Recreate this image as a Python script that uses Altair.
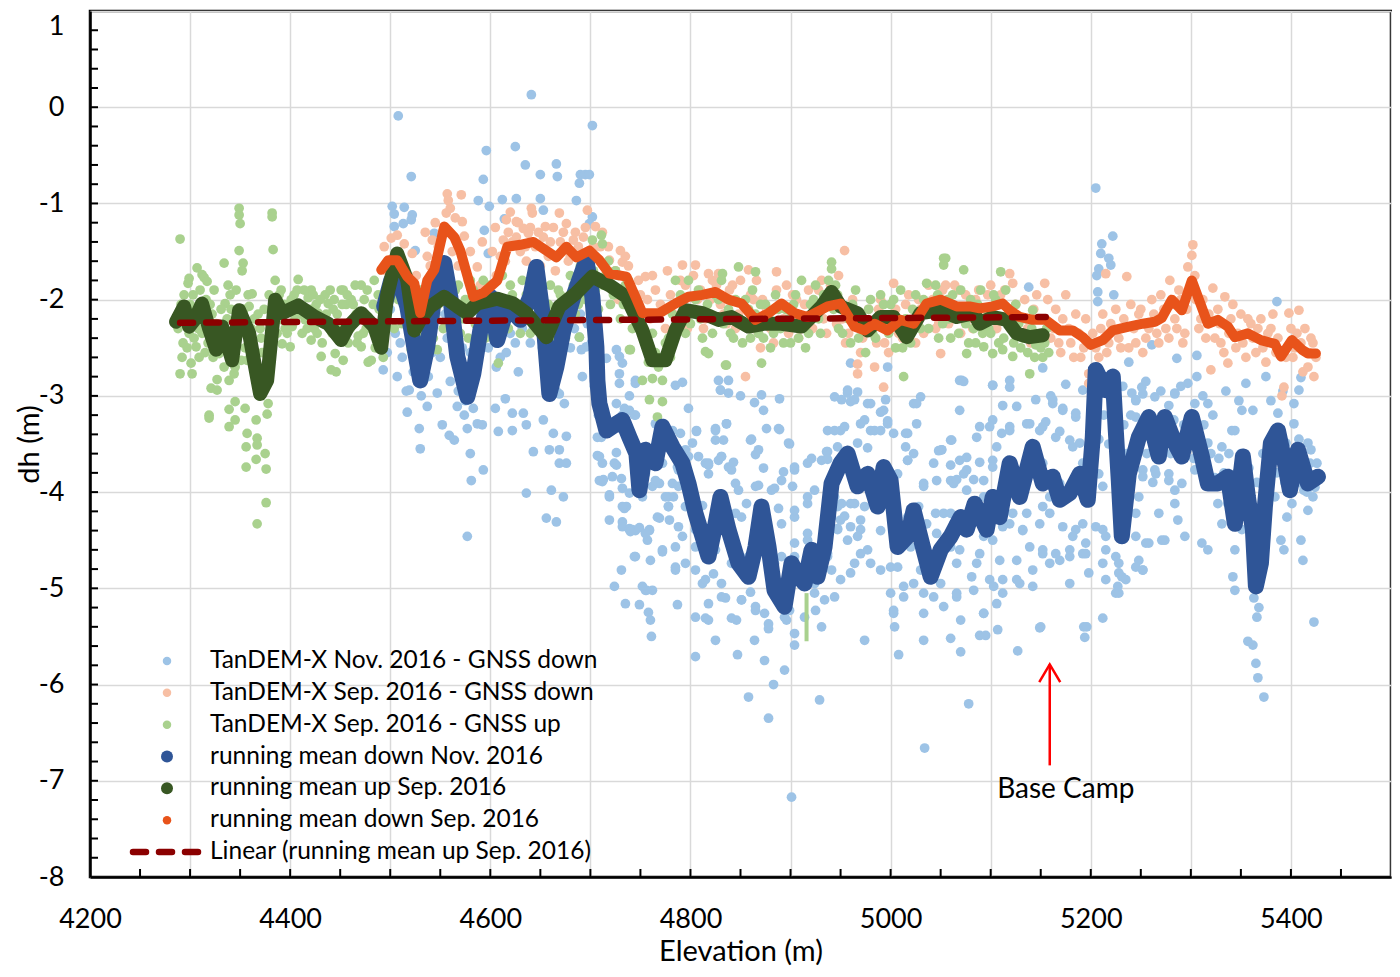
import altair as alt
import pandas as pd

FONT = "Lato"
W, H = 1301, 866

# ---------------- data ----------------
nov_down_pts = [
    (4508,-0.09),(4641,0.13),(4702,-0.19),(4521,-0.72),(4596,-0.45),(4625,-0.41),(4635,-0.60),(4650,-0.70),
    (4666,-0.59),(4667,-0.72),(4690,-0.70),(4695,-0.70),(4699,-0.70),(4689,-0.79),(4593,-0.75),(4588,-0.97),
    (4612,-0.96),(4626,-0.95),(4650,-0.95),(4686,-0.97),(4502,-1.03),(4514,-1.04),(4504,-1.11),(4522,-1.12),
    (4521,-1.17),(4513,-1.21),(4504,-1.24),(4599,-1.03),(4594,-1.28),(4614,-1.16),(4653,-1.07),(4702,-1.14),
    (4699,-1.21),(4544,-1.31),(4598,-1.52),(4525,-1.49),
    (4497,-2.30),(4503,-1.90),(4510,-2.45),(4515,-1.75),(4525,-2.20),(4533,-2.65),(4540,-2.35),(4548,-1.85),
    (4555,-2.15),(4562,-2.40),(4570,-2.75),(4580,-2.55),(4590,-2.15),(4598,-2.50),(4610,-2.60),(4620,-2.35),
    (4628,-2.75),(4640,-2.45),(4648,-2.05),(4660,-2.60),(4672,-2.15),(4680,-2.50),(4690,-2.15),(4700,-1.85),
    (4706,-2.60),
    (4493,-2.73),(4497,-2.55),(4507,-2.80),(4517,-3.17),(4519,-2.94),(4529,-3.34),(4530,-3.55),(4537,-3.11),
    (4547,-2.97),(4552,-3.30),(4559,-3.41),(4564,-3.46),(4567,-3.11),(4574,-3.20),(4577,-3.34),(4580,-3.60),
    (4581,-3.88),(4587,-3.29),(4592,-3.30),(4583,-3.13),(4593,-3.77),(4605,-3.13),(4608,-3.37),(4615,-3.03),
    (4622,-3.36),(4622,-3.18),(4633,-3.18),(4636,-3.30),(4643,-3.58),(4636,-4.01),(4653,-3.25),(4656,-4.27),
    (4666,-4.31),(4661,-3.98),(4673,-4.05),(4663,-3.39),(4669,-3.70),(4676,-3.42),(4669,-3.56),(4659,-3.56),
    (4676,-3.70),(4674,-3.08),(4669,-2.98),(4577,-4.46),(4696,-2.49),(4689,-2.39),
    (4716,-2.61),(4726,-2.52),(4732,-2.66),(4729,-2.77),(4745,-2.84),(4732,-3.20),(4739,-3.15),(4744,-3.20),
    (4726,-3.08),(4707,-3.43),(4707,-3.62),(4712,-3.70),(4726,-3.72),(4712,-3.89),(4719,-4.05),(4732,-3.96),
    (4739,-4.01),(4749,-3.94),(4752,-4.05),(4734,-4.17),(4739,-4.38),(4745,-4.40),(4759,-4.40),(4769,-4.27),
    (4762,-3.94),(4769,-3.70),(4755,-3.63),(4778,-4.15),(4779,-4.29),(4788,-3.94),(4790,-3.39),(4795,-3.56),
    (4798,-3.13),(4806,-3.36),(4815,-3.70),(4818,-3.81),(4825,-3.34),(4831,-3.63),(4838,-3.74),(4836,-3.29),
    (4825,-3.46),(4838,-2.97),(4830,-2.94),(4828,-2.84),(4838,-2.84),(4732,-4.31),(4709,-3.88),
    (4691,-2.52),(4692,-2.80),(4729,-2.59),(4745,-2.87),(4785,-2.89),(4792,-2.86),
    (4871,-2.99),(4889,-3.03),(4873,-3.15),(4876,-3.34),(4888,-3.34),(4860,-3.46),(4898,-3.49),(4957,-2.97),
    (4967,-2.96),(4960,-3.06),(4977,-3.08),(4995,-3.04),(4993,-3.15),(4997,-3.29),(4974,-3.25),(4984,-3.36),
    (5017,-3.39),(5023,-3.08),(5030,-3.01),(5061,-3.46),(5069,-2.84),(5051,-3.56),(5069,-3.67),(5017,-3.67),
    (5007,-3.81),(5033,-3.91),(5060,-3.88),(5076,-3.98),(5053,-4.22),(5017,-4.26),(4997,-4.05),(5069,-4.60),
    (5050,-4.95),(5030,-4.81),(5013,-5.09),(5003,-5.23),(5033,-5.26),(5066,-5.09),(5081,-4.88),(4960,-4.12),
    (4970,-4.39),(4977,-4.60),(4964,-4.74),(4941,-4.26),(4947,-4.39),(4937,-4.67),(4944,-5.09),(4924,-4.95),
    (4914,-5.30),(4894,-5.30),(4878,-5.37),(4865,-5.19),(4851,-5.12),(4831,-5.09),(4818,-5.16),(4812,-4.95),
    (4795,-4.74),(4785,-4.81),(4762,-5.02),(4755,-5.02),(4745,-4.67),(4732,-4.36),(4742,-4.39),(4759,-4.39),
    (4772,-4.60),(4785,-4.57),(4722,-3.84),(4736,-4.15),(4769,-3.91),(4778,-4.05),(4788,-3.77),(4808,-3.63),
    (4818,-3.70),(4828,-3.67),(4841,-3.77),(4845,-3.91),(4865,-3.94),(4881,-3.98),(4891,-3.88),(4904,-3.77),
    (4917,-3.70),(4931,-3.67),(4937,-3.36),(4947,-3.53),(4950,-3.36),(4924,-3.98),(4917,-4.12),(4904,-4.26),
    (4891,-4.33),(4871,-4.33),(4851,-4.26),(4835,-4.33),(4825,-4.60),(4841,-4.74),(4858,-4.67),(4884,-4.74),
    (4904,-4.67),(4917,-4.50),(4937,-4.39),(4795,-4.15),(4805,-4.39),
    (4850,-3.00),(4864,-3.07),(4957,-2.94),(4960,-2.66),(4997,-2.70),(5138,-1.87),(5071,-2.84),(5102,-2.89),
    (5119,-2.84),(5152,-2.71),(5160,-3.00),
    (4901,-7.17),(5034,-6.66),(5078,-6.20),(4878,-6.35),(4858,-6.13),(4883,-6.00),(4929,-6.16),(5127,-5.65),
    (5149,-5.41),(5194,-5.51),(5193,-5.40),(5060,-5.52),(5070,-5.33),(5089,-5.49),(5095,-5.49),(5008,-5.69),
    (5004,-5.40),(4805,-5.71),(4761,-5.50),(4758,-5.25),(4731,-4.81),(4735,-5.16),(4756,-5.02),(4787,-5.17),
    (4815,-5.31),(4846,-5.33),(4925,-5.23),(4904,-5.59),(4874,-5.75),(4894,-5.85),(4864,-5.54),(4847,-5.69),
    (4825,-5.54),(4974,-5.54),(5033,-5.54),(5107,-5.43),(5070,-5.66),
    (5205,-0.84),(5222,-1.34),(5211,-1.42),(5210,-1.52),(5218,-1.57),(5220,-1.64),(5208,-1.68),(5206,-1.75),
    (5207,-1.92),(5207,-2.02),(5223,-1.95),(5386,-2.02),(5261,-2.47),(5238,-2.65),(5286,-2.61),(5306,-2.58),
    (5306,-2.80),
    (5241,-2.97),(5251,-2.91),(5264,-3.01),(5284,-2.97),(5297,-2.87),(5304,-3.08),(5317,-3.08),(5341,-3.36),
    (5351,-3.15),(5387,-3.18),(5403,-3.08),(5408,-2.94),(5410,-2.81),(5375,-2.80),(5355,-2.87),(5417,-3.49),
    (5420,-3.56),(5413,-3.98),(5417,-4.19),(5410,-4.50),(5412,-4.71),(5396,-4.26),(5390,-4.50),(5393,-4.60),
    (5370,-4.26),(5360,-4.60),(5344,-4.60),(5342,-4.88),(5344,-5.02),(5317,-4.60),(5311,-4.53),(5294,-4.46),
    (5287,-4.29),(5274,-4.50),(5258,-4.53),(5252,-4.81),(5248,-4.71),(5228,-4.74),(5231,-4.88),(5225,-5.05),
    (5215,-4.60),(5212,-4.74),(5215,-4.91),(5198,-4.84),(5192,-4.64),(5195,-4.53),(5212,-4.39),(5185,-4.39),
    (5179,-4.60),(5169,-4.71),(5159,-4.74),(5152,-4.60),(5142,-4.81),(5129,-4.95),(5112,-4.91),(5099,-4.91),
    (5086,-4.74),(5066,-4.74),(5093,-5.26),(5106,-5.16),(5150,-5.40),(5179,-4.95),(5196,-5.40),(5212,-5.31),
    (5331,-4.33),(5327,-4.12),
    (5069,-3.15),(5086,-3.43),(5102,-3.25),(5119,-3.36),(5136,-3.29),(5152,-3.32),(5165,-3.43),(5182,-3.53),
    (5185,-3.22),(5172,-3.15),(5162,-3.08),(5136,-3.77),(5152,-3.70),(5159,-4.05),(5169,-3.91),(5192,-3.70),
    (5102,-3.67),(5093,-4.05),(5076,-3.77),(5063,-3.91),(5060,-4.22),(5119,-4.33),(5132,-4.39),(5102,-4.50),
    (5245,-3.43),(5252,-3.77),(5264,-3.77),(5278,-3.81),(5291,-3.91),(5304,-3.77),(5317,-3.49),(5331,-3.53),
    (5344,-3.36),(5337,-4.12),(5351,-4.39),(5370,-3.91),(5384,-4.05),(5401,-4.12),(5411,-3.91),(5419,-3.70),
    (5422,-4.05),(5403,-3.29),(5395,-3.49),
    (5232,-2.90),(5245,-3.05),(5255,-2.85),(5270,-2.95),(5278,-3.10),(5290,-2.90),(5312,-3.00),(5322,-3.20),
    (5335,-2.95),(5348,-3.05),(5362,-3.15),(5380,-3.05),(5392,-2.95),
    (5373,-6.13),(5367,-5.93),(5365,-5.78),(5362,-5.59),(5357,-5.55),(5423,-5.35),(5228,-5.05),
    (5363,-5.10),(5366,-5.30),(5368,-5.20),
]

nov_down_more = [
    (4729,-2.87),(4830,-2.94),(4836,-3.29),(4889,-3.35),(4861,-3.45),(4899,-3.50),(4868,-3.56),(4865,-3.61),
    (4806,-3.37),(4825,-3.36),(4833,-3.46),(4921,-3.65),(4936,-3.58),(4904,-3.74),(4893,-3.79),(4873,-3.75),
    (4843,-3.69),(4818,-3.72),(4831,-3.63),(4798,-3.63),(4787,-3.74),(4848,-3.98),(4868,-3.93),(4884,-3.96),
    (4902,-3.94),(4917,-4.05),(4904,-4.19),(4888,-4.17),(4856,-4.12),(4845,-4.22),(4812,-4.14),(4783,-4.05),
    (4767,-4.26),(4778,-4.15),(4792,-4.46),(4788,-4.36),(4805,-4.57),(4772,-4.62),(4785,-4.78),(4760,-4.71),
    (4744,-4.67),(4739,-4.39),(4749,-4.37),(4757,-4.50),(4752,-4.98),(4749,-5.17),(4760,-5.33),(4805,-4.81),
    (4815,-4.91),(4823,-4.85),(4831,-4.95),(4805,-5.30),(4818,-5.33),(4835,-5.10),(4841,-5.31),(4851,-5.12),
    (4860,-5.04),(4865,-5.23),(4874,-5.26),(4878,-5.42),(4896,-5.33),(4899,-5.23),(4924,-5.05),(4934,-5.12),
    (4931,-5.40),(4904,-5.47),(4891,-4.67),(4904,-4.53),(4917,-4.43),(4937,-4.64),(4941,-4.81),(4950,-4.91),
    (4960,-4.84),(4970,-4.64),(4980,-4.74),(4990,-4.81),(5000,-4.78),(4957,-4.50),(4967,-4.46),(4970,-4.29),
    (4990,-4.40),(4950,-4.29),(4960,-4.36),(4947,-4.15),(4964,-4.12),(4974,-4.15),(4954,-3.32),(4970,-3.29),
    (4980,-3.36),(4990,-3.36),(4944,-3.36),(4967,-3.49),(4977,-3.54),(4937,-3.58),(4990,-3.17),(4997,-3.26),
    (4944,-3.01),(4951,-3.04),(4964,-3.04),(4980,-3.08),(4937,-3.66),(4944,-4.05),(4951,-4.12),(4947,-4.38),
    (4954,-4.25),(4711,-3.43),(4709,-3.63),(4713,-3.87),(4719,-4.03),(4732,-4.15),(4740,-4.41),(4731,-3.86),
    (4724,-3.70),(4726,-3.59),(4714,-3.18),(4734,-3.13),(4745,-3.20),(4739,-3.00),(4765,-3.29),(4782,-3.36),
    (4802,-3.49),(4793,-3.66),(4755,-3.81),(4765,-3.88),(4772,-3.70),(4782,-3.91),(4775,-4.05),(4719,-4.29),
    (4755,-4.43),(4724,-4.98),
    (5026,-3.29),(5015,-3.39),(5060,-3.46),(5051,-3.56),(5023,-3.60),(5015,-3.53),(5017,-3.67),(5003,-3.39),
    (5089,-3.32),(5099,-3.32),(5119,-3.32),(5111,-3.39),(5139,-3.29),(5149,-3.36),(5155,-3.27),(5169,-3.37),
    (5179,-3.46),(5189,-3.49),(5185,-3.18),(5112,-3.10),(5126,-3.11),(5145,-3.04),(5162,-3.04),(5172,-3.13),
    (5073,-2.85),(5102,-2.89),(5119,-2.91),(5026,-3.08),(5048,-3.57),(5060,-3.72),(5073,-3.81),(5083,-3.87),
    (5093,-3.88),(5102,-3.74),(5089,-3.69),(5106,-3.53),(5076,-3.64),(5066,-3.87),(5046,-3.88),(5043,-3.70),
    (5033,-3.94),(5028,-4.15),(5045,-4.22),(5036,-4.33),(5046,-4.43),(5063,-4.33),(5079,-4.39),(5093,-4.46),
    (5102,-4.29),(5112,-4.36),(5122,-4.22),(5136,-4.22),(5149,-4.33),(5132,-4.40),(5159,-4.22),(5152,-4.15),
    (5172,-4.36),(5182,-4.46),(5192,-4.33),(5179,-4.67),(5165,-4.64),(5152,-4.64),(5139,-4.57),(5126,-4.71),
    (5109,-4.71),(5089,-4.64),(5060,-4.57),(5036,-4.64),(5020,-4.57),(5007,-4.78),(5013,-4.98),(5023,-4.95),
    (5033,-5.05),(5043,-5.09),(5053,-5.19),(5066,-5.05),(5083,-5.02),(5093,-5.26),(5103,-4.98),(5112,-5.05),
    (5126,-4.91),(5142,-4.98),(5000,-5.05),(5003,-5.26),(5195,-4.64),(5205,-4.36),(5215,-4.46),(5225,-4.67),
    (5228,-4.84),(5227,-4.98),(5235,-4.91),(5245,-4.78),(5245,-4.46),(5255,-4.53),(5252,-4.81),(5271,-4.50),
    (5212,-3.94),(5208,-3.81),(5245,-4.22),(5268,-4.22),(5248,-4.05),(5252,-3.84),(5265,-3.81),(5278,-3.88),
    (5284,-3.98),(5284,-4.12),(5245,-3.22),(5245,-3.04),(5252,-2.98),(5284,-2.98),(5175,-2.88),(5192,-2.94),
    (5200,-3.70),(5203,-3.20),(5208,-3.45),(5213,-3.20),(5218,-3.50),(5222,-3.15),(5226,-3.60),(5233,-3.30),
    (5236,-3.60),(5240,-3.20),(5243,-3.70),(5250,-3.40),(5256,-3.60),(5260,-3.35),(5262,-3.90),(5266,-3.45),
    (5272,-3.60),(5276,-3.35),(5280,-3.60),(5283,-3.25),(5288,-3.45),(5293,-3.30),(5296,-3.55),(5300,-3.40),
    (5303,-3.65),(5308,-3.45),(5313,-3.30),(5316,-3.75),(5320,-3.60),(5324,-3.85),(5328,-3.65),(5333,-3.80),
    (5338,-3.60),(5340,-4.00),(5346,-3.80),(5350,-3.60),(5354,-3.95),(5358,-3.75),(5361,-4.20),(5366,-3.90),
    (5369,-4.50),(5372,-3.60),(5376,-3.95),(5379,-3.70),(5383,-3.50),(5386,-3.80),(5390,-3.55),(5394,-3.90),
    (5397,-3.65),(5400,-3.85),(5405,-3.70),(5408,-3.45),(5414,-3.75),(5416,-4.00),(5420,-3.85),(5424,-3.95),
    (5426,-3.70),
    (4495,-2.55),(4500,-2.10),(4505,-2.35),(4508,-1.60),(4512,-2.60),(4516,-2.95),(4520,-2.05),(4523,-2.75),
    (4527,-2.40),(4531,-3.00),(4535,-2.20),(4538,-2.80),(4542,-2.55),(4546,-2.15),(4550,-2.60),(4553,-1.90),
    (4557,-2.40),(4560,-2.85),(4565,-2.30),(4568,-2.95),(4572,-2.50),(4575,-3.05),(4578,-2.70),(4584,-2.45),
    (4588,-2.30),(4592,-2.05),(4596,-2.25),(4602,-2.35),(4606,-2.70),(4612,-2.25),(4616,-2.55),(4619,-2.05),
    (4625,-2.45),(4632,-2.30),(4637,-2.15),(4643,-2.30),(4645,-1.85),(4652,-2.50),(4657,-2.85),(4663,-2.40),
    (4666,-2.95),(4670,-2.60),(4675,-2.35),(4678,-2.05),(4684,-2.30),(4688,-1.95),(4693,-1.80),(4697,-2.25),
    (4701,-2.45),(4704,-2.90),(4708,-3.20),(4711,-3.05),
]

sep_down_pts = [
    (4557,-0.90),(4571,-0.91),(4558,-0.97),(4556,-1.10),(4565,-1.15),(4572,-1.19),(4574,-1.34),(4620,-1.09),
    (4641,-1.05),(4642,-1.10),(4616,-1.17),(4626,-1.19),(4633,-1.26),(4655,-1.24),(4669,-1.10),(4676,-1.21),
    (4697,-1.07),(4705,-1.24),(4501,-1.36),(4507,-1.33),(4494,-1.45),(4514,-1.42),(4522,-1.52),(4537,-1.55),
    (4542,-1.38),(4587,-1.66),(4602,-1.50),(4613,-1.38),(4626,-1.35),(4638,-1.31),(4653,-1.35),(4673,-1.30),
    (4683,-1.38),(4693,-1.35),(4719,-1.59),(4730,-1.49),(4732,-1.61),(4755,-1.76),(4792,-1.64),(4805,-1.64),
    (4818,-1.73),(4828,-1.73),
    (4496,-1.70),(4503,-1.85),(4510,-1.60),(4518,-1.95),(4526,-1.75),(4531,-2.00),(4540,-1.65),(4548,-1.45),
    (4552,-1.30),(4562,-1.50),(4568,-1.65),(4578,-1.80),(4582,-2.05),(4590,-1.85),(4596,-2.10),(4606,-1.75),
    (4610,-1.55),(4618,-1.30),(4630,-1.50),(4636,-1.60),(4645,-1.45),(4650,-1.65),(4660,-1.40),(4665,-1.70),
    (4680,-1.55),(4688,-1.45),(4700,-1.70),(4710,-1.45),(4715,-1.80),(4725,-1.70),(4740,-1.85),(4745,-2.10),
    (4750,-1.95),(4760,-2.20),(4765,-1.90),(4775,-2.30),(4780,-1.95),(4788,-2.20),(4795,-1.85),(4800,-2.10),
    (4810,-1.90),(4815,-2.20),(4822,-1.80),(4830,-2.05),(4836,-2.25),(4842,-1.85),(4848,-2.15),(4855,-2.80),
    (4860,-1.95),(4868,-2.35),(4872,-2.00),(4880,-2.30),(4886,-1.90),(4893,-2.20),(4898,-2.35),(4902,-1.95),
    (4908,-2.40),(4914,-2.05),(4922,-2.30),(4928,-1.90),(4933,-2.20),(4940,-1.85),(4946,-2.25),(4954,-1.49),
    (4886,-1.71),(4858,-1.69),(5003,-1.83),
    (4967,-2.77),(4993,-2.91),(4967,-2.67),(4984,-2.70),(5050,-2.56),
    (4955,-2.45),(4962,-2.00),(4970,-2.55),(4978,-2.10),(4986,-2.45),(4990,-2.00),(4998,-2.55),(5005,-2.10),
    (5012,-2.40),(5018,-1.95),(5025,-2.45),(5030,-2.10),(5038,-1.85),(5045,-2.30),(5052,-1.90),(5058,-2.25),
    (5064,-1.85),(5070,-2.35),(5075,-1.95),(5082,-2.30),(5088,-1.90),(5094,-2.25),(5100,-1.85),(5106,-2.30),
    (5114,-1.90),(5119,-1.73),(5122,-1.83),(5128,-2.35),(5134,-2.00),(5140,-2.45),(5146,-1.95),(5154,-1.83),
    (5160,-2.40),(5165,-2.10),(5170,-2.55),(5175,-1.95),(5180,-2.45),(5185,-2.15),(5190,-2.60),(5195,-2.20),
    (5198,-2.77),(5198,-2.87),(5202,-2.35),(5208,-2.60),(5212,-2.15),(5215,-1.73),(5218,-2.45),(5225,-2.10),
    (5230,-2.50),(5236,-1.76),(5240,-2.05),(5245,-2.45),(5250,-2.10),(5255,-2.40),(5261,-2.00),(5266,-2.35),
    (5270,-1.95),(5275,-2.30),(5279,-1.80),(5284,-2.20),(5288,-1.90),(5294,-2.35),(5297,-1.66),(5301,-1.54),
    (5302,-1.43),(5305,-2.00),(5310,-2.20),(5315,-2.40),(5320,-2.73),(5322,-1.88),(5327,-2.10),(5330,-2.45),
    (5334,-1.97),(5337,-2.66),(5340,-2.20),(5345,-2.50),(5350,-2.15),(5355,-2.60),(5360,-2.25),(5365,-2.55),
    (5370,-2.20),(5375,-2.65),(5380,-2.30),(5385,-2.55),(5391,-3.00),(5393,-2.91),(5398,-2.14),(5402,-2.60),
    (5406,-2.35),(5408,-2.11),(5412,-2.75),(5417,-2.70),(5420,-2.40),(5423,-2.80),(5425,-2.60),
]

sep_down_more = [
    (4722,-1.90),(4728,-2.00),(4738,-1.65),(4748,-1.80),(4757,-2.00),(4762,-1.75),(4770,-2.05),(4777,-1.70),
    (4783,-2.15),(4790,-1.80),(4797,-2.30),(4803,-1.75),(4807,-2.00),(4813,-2.30),(4820,-2.00),(4826,-1.85),
    (4833,-2.15),(4839,-1.90),(4845,-2.30),(4850,-1.80),(4856,-2.25),(4863,-2.00),(4866,-1.80),(4870,-2.50),
    (4876,-2.10),(4883,-2.45),(4889,-2.05),(4896,-1.85),(4900,-2.25),(4906,-2.00),(4911,-2.30),(4918,-1.90),
    (4925,-2.15),(4931,-1.80),(4936,-2.35),(4943,-2.05),(4948,-1.75),(4952,-2.20),(4958,-2.35),(4965,-2.15),
    (4972,-2.40),(4980,-2.25),(4988,-2.10),(4994,-2.45),(5000,-2.20),(5008,-2.35),(5015,-2.05),(5020,-2.30),
    (5028,-2.00),(5033,-2.35),(5042,-2.00),(5048,-2.25),(5055,-1.85),(5062,-2.15),(5068,-1.90),(5078,-2.20),
    (5085,-2.00),(5092,-2.15),(5097,-1.95),(5104,-2.20),(5110,-1.95),(5117,-2.25),(5125,-2.05),(5131,-2.20),
    (5137,-2.30),(5143,-2.10),(5150,-2.35),(5157,-2.00),(5163,-2.30),(5168,-2.45),(5172,-2.20),(5178,-2.30),
    (5183,-2.60),(5188,-2.35),(5193,-2.50),(5205,-2.50),(5210,-2.30),(5216,-2.55),(5220,-2.25),(5228,-2.40),
    (5233,-2.20),(5238,-2.50),(5243,-2.30),(5248,-2.15),(5252,-2.55),(5258,-2.30),(5263,-2.15),(5268,-2.45),
    (5273,-2.10),(5278,-2.40),(5282,-2.05),(5286,-2.30),(5290,-2.00),(5292,-2.45),(5296,-2.10),(5299,-1.90),
    (5304,-1.75),(5308,-2.30),(5312,-2.00),(5318,-2.15),(5324,-2.40),(5329,-2.25),(5333,-2.55),(5338,-2.35),
    (5342,-2.05),(5347,-2.35),(5352,-2.45),(5357,-2.20),(5362,-2.40),(5367,-2.30),(5372,-2.50),(5377,-2.35),
    (5382,-2.15),(5387,-2.40),(5395,-2.60),(5400,-2.30),(5404,-2.50),(5410,-2.45),(5414,-2.30),(5418,-2.55),
    (5422,-2.45),
    (4535,-1.30),(4545,-1.20),(4560,-1.05),(4580,-1.50),(4592,-1.40),(4605,-1.25),(4615,-1.60),(4622,-1.40),
    (4628,-1.20),(4635,-1.45),(4640,-1.25),(4648,-1.30),(4658,-1.55),(4663,-1.25),(4670,-1.40),(4678,-1.60),
    (4685,-1.30),(4690,-1.55),(4695,-1.25),(4703,-1.45),(4712,-1.30),(4718,-1.45),(4735,-1.55),
]

sep_up_pts = [
    (4290,-1.37),(4349,-1.05),(4349,-1.12),(4350,-1.21),(4382,-1.10),(4382,-1.14),(4383,-1.48),(4349,-1.49),
    (4353,-1.62),(4352,-1.70),(4334,-1.62),(4307,-1.67),(4312,-1.74),(4314,-1.77),(4317,-1.81),(4299,-1.78),
    (4298,-1.83),(4294,-1.95),
    (4290,-2.77),(4302,-2.77),(4301,-2.66),(4321,-2.92),(4327,-2.94),(4327,-2.83),(4339,-2.84),(4344,-2.77),
    (4319,-3.20),(4319,-3.23),(4339,-3.14),(4345,-3.06),(4339,-3.32),(4345,-3.25),(4355,-3.13),(4357,-3.39),
    (4356,-3.53),(4356,-3.74),(4366,-3.66),(4367,-3.44),(4367,-3.51),(4375,-3.60),(4376,-3.76),(4366,-3.25),
    (4377,-3.19),(4376,-4.11),(4367,-4.33),(4378,-3.08),
    (4392,-2.46),(4400,-2.49),(4421,-2.42),(4431,-2.59),(4441,-2.73),(4446,-2.75),(4445,-2.56),(4453,-2.63),
    (4478,-2.65),(4385,-1.80),(4408,-1.79),(4421,-1.90),(4453,-1.90),(4471,-1.85),(4484,-1.80),
    (4294,-2.21),(4299,-2.35),(4306,-2.49),(4312,-2.35),(4329,-2.56),(4334,-2.70),(4345,-2.70),(4351,-2.63),
    (4357,-2.63),(4335,-2.04),(4359,-2.07),(4362,-1.94),(4378,-2.63),(4378,-2.42),(4392,-2.21),(4402,-2.28),
    (4415,-2.21),(4428,-2.14),(4438,-2.04),(4451,-1.90),(4461,-2.00),(4464,-2.21),(4478,-2.18),(4486,-2.32),
    (4481,-2.63),(4471,-2.49),
    (4711,-1.33),(4712,-1.42),(4702,-1.38),(4832,-1.73),(4762,-2.82),(4772,-2.84),(4752,-2.84),(4759,-3.04),
    (4772,-3.06),(4767,-3.22),(4739,-2.52),(4815,-2.54),(4835,-2.68),(4608,-2.66),(4547,-2.52),(4521,-2.52),
    (4520,-2.39),(4848,-1.66),(4865,-1.71),(4941,-1.61),(4941,-1.68),(5053,-1.57),(5053,-1.64),(5013,-2.80),
    (4871,-2.66),(4818,-2.56),(4836,-2.68),(4740,-2.52),(4689,-2.39),(4785,-1.80),(4798,-1.80),(4831,-1.80),
    (4911,-1.80),(5036,-1.83),(5073,-1.69),(5055,-1.57),(5110,-1.71),(5076,-2.56),(5102,-2.56),(5112,-2.52),
    (5122,-2.59),(5139,-2.77),(5142,-2.11),(5145,-2.47),(5093,-2.49),
]

sep_up_more = [
    (4291,-2.05),(4293,-2.45),(4296,-2.15),(4303,-1.95),(4305,-2.10),(4308,-2.30),(4310,-1.90),(4316,-2.00),
    (4318,-2.45),(4322,-2.15),(4324,-1.90),(4330,-2.35),(4337,-2.20),(4340,-1.95),(4342,-2.45),(4347,-2.25),
    (4354,-2.10),(4360,-2.45),(4364,-2.20),(4370,-2.30),(4372,-2.55),(4380,-2.25),(4386,-2.05),(4389,-1.95),
    (4395,-2.30),(4398,-2.10),(4404,-1.95),(4410,-2.05),(4412,-2.35),(4418,-1.98),(4424,-2.30),(4426,-2.05),
    (4433,-2.25),(4435,-1.95),(4443,-2.10),(4448,-2.30),(4456,-2.05),(4458,-2.45),(4466,-2.15),(4468,-2.38),
    (4474,-2.00),(4476,-2.30),(4489,-2.10),(4491,-2.40),(4494,-1.95),
    (4288,-2.30),(4292,-2.60),(4297,-2.50),(4300,-2.05),(4304,-2.40),(4309,-2.60),(4313,-2.15),(4315,-2.55),
    (4320,-2.05),(4323,-2.60),(4326,-2.25),(4331,-2.10),(4333,-2.50),(4336,-2.35),(4338,-1.85),(4341,-2.10),
    (4344,-2.50),(4346,-1.90),(4350,-2.35),(4355,-2.50),(4358,-1.95),(4361,-2.30),(4363,-2.55),(4368,-2.15),
    (4371,-2.40),(4374,-2.10),(4379,-1.95),(4383,-2.20),(4387,-2.35),(4391,-1.90),(4394,-2.05),(4397,-2.35),
    (4401,-2.00),(4405,-2.20),(4407,-1.90),(4411,-2.15),(4414,-1.90),(4417,-2.30),(4420,-2.10),(4423,-1.95),
    (4427,-2.35),(4430,-2.00),(4432,-2.45),(4436,-2.15),(4440,-1.90),(4442,-2.35),(4444,-2.00),(4447,-2.15),
    (4450,-2.35),(4452,-2.05),(4455,-2.25),(4457,-1.95),(4460,-2.30),(4463,-2.05),(4465,-1.85),(4467,-2.45),
    (4470,-2.20),(4473,-2.35),(4477,-1.90),(4480,-2.25),(4483,-2.05),(4485,-2.50),(4488,-1.95),(4490,-2.25),
    (4493,-2.60),
    (4502,-1.75),(4508,-2.00),(4512,-2.25),(4515,-1.85),(4526,-2.10),(4530,-1.90),(4535,-2.30),(4540,-1.80),
    (4545,-2.15),(4550,-1.95),(4556,-1.75),(4560,-2.20),(4565,-1.90),(4570,-2.35),(4575,-2.00),(4580,-1.80),
    (4585,-2.25),(4590,-1.95),(4595,-2.40),(4600,-1.85),(4605,-2.15),(4612,-1.75),(4618,-2.30),(4622,-1.95),
    (4628,-2.20),(4632,-1.80),(4640,-2.35),(4645,-1.95),(4650,-2.15),(4655,-2.50),(4660,-1.85),(4665,-2.25),
    (4670,-1.95),(4675,-2.40),(4680,-1.75),(4685,-2.15),(4690,-1.65),(4695,-2.00),(4700,-1.60),(4705,-1.90),
    (4715,-1.75),(4720,-2.05),(4725,-1.70),(4730,-2.20),(4735,-1.85),(4742,-2.30),(4748,-2.05),(4755,-2.45),
    (4765,-2.55),(4778,-2.40),(4782,-2.15),(4790,-1.95),(4795,-2.35),(4802,-2.10),(4808,-1.90),(4812,-2.40),
    (4820,-2.15),(4825,-1.95),(4840,-2.35),(4845,-2.00),(4852,-2.45),(4858,-2.10),(4862,-1.90),(4868,-2.35),
    (4875,-2.05),(4880,-2.50),(4885,-1.95),(4890,-2.30),(4895,-2.10),(4900,-2.45),(4905,-1.95),(4910,-2.25),
    (4915,-2.50),(4920,-2.05),(4925,-1.85),(4930,-2.35),(4935,-2.00),(4945,-1.85),(4948,-2.30),(4955,-2.10),
    (4960,-2.45),(4965,-1.90),(4970,-2.25),(4975,-2.55),(4980,-2.00),(4985,-2.40),(4990,-1.95),(4995,-2.30),
    (5000,-2.05),(5005,-2.50),(5010,-1.90),(5015,-2.20),(5020,-2.45),(5025,-1.95),(5030,-2.30),(5040,-2.05),
    (5045,-1.85),(5048,-2.40),(5058,-2.20),(5062,-1.95),(5068,-2.35),(5080,-2.00),(5085,-2.45),(5090,-1.90),
    (5098,-2.30),(5105,-2.00),(5108,-2.45),(5115,-1.90),(5120,-2.30),(5125,-2.05),(5130,-2.50),(5135,-2.20),
    (5148,-2.40),(5152,-2.60),(5156,-2.30),
    (4504,-2.30),(4510,-1.65),(4518,-2.05),(4523,-1.85),(4528,-2.40),(4532,-2.05),(4538,-1.95),(4543,-2.40),
    (4548,-2.05),(4553,-2.30),(4558,-1.95),(4563,-2.05),(4568,-1.85),(4573,-2.20),(4578,-2.40),(4583,-1.90),
    (4588,-2.10),(4593,-1.80),(4598,-2.20),(4603,-2.40),(4609,-2.00),(4615,-2.20),(4620,-1.85),(4626,-2.10),
    (4630,-2.35),(4636,-1.95),(4642,-2.20),(4648,-1.85),(4653,-2.30),(4658,-2.05),(4663,-2.40),(4668,-1.90),
    (4673,-2.10),(4678,-2.25),(4683,-1.85),(4688,-2.05),(4693,-1.80),(4698,-1.95),(4703,-1.70),(4708,-2.10),
    (4713,-1.85),(4718,-1.60),(4723,-1.95),(4728,-1.75),(4733,-2.05),(4738,-1.80),(4745,-2.10),(4750,-2.30),
    (4758,-2.65),(4762,-2.35),(4768,-2.70),(4775,-2.45),(4780,-2.60),(4788,-2.20),(4793,-2.00),(4800,-2.25),
    (4805,-2.00),(4810,-2.20),(4817,-2.05),(4822,-2.35),(4828,-2.00),(4833,-2.25),(4838,-2.10),(4843,-2.40),
    (4848,-2.25),(4855,-2.00),(4860,-2.40),(4865,-2.15),(4870,-2.05),(4873,-2.40),(4878,-2.20),(4883,-2.35),
    (4888,-2.10),(4893,-2.45),(4898,-2.20),(4903,-2.05),(4908,-2.40),(4913,-2.20),(4918,-2.35),(4923,-2.00),
    (4928,-2.20),(4933,-1.95),(4938,-1.80),(4943,-2.10),(4947,-1.95),(4952,-2.35),(4958,-2.20),(4962,-2.05),
    (4968,-2.40),(4972,-2.20),(4978,-2.10),(4982,-2.35),(4988,-2.20),(4993,-2.05),(4998,-2.35),(5003,-2.00),
    (5008,-2.25),(5012,-2.50),(5018,-2.30),(5022,-2.10),(5027,-2.25),(5033,-2.00),(5038,-2.30),(5043,-2.15),
    (5047,-1.95),(5052,-2.25),(5057,-2.00),(5060,-2.40),(5065,-2.10),(5070,-1.90),(5075,-2.25),(5078,-2.45),
    (5083,-2.30),(5087,-2.05),(5092,-2.35),(5095,-2.10),(5100,-2.35),(5103,-1.95),(5110,-2.20),(5113,-2.40),
    (5118,-2.10),(5123,-2.45),(5128,-2.25),(5132,-2.40),(5137,-2.55),(5141,-2.30),(5144,-2.60),(5150,-2.50),
    (5154,-2.45),(5158,-2.55),
]

sep_up_streak = [(4916, -5.05), (4916, -5.55)]

nov_mean = [
    (4494,-2.07),(4501,-1.80),(4507,-1.69),(4512,-1.90),(4517,-2.07),(4524,-2.49),(4530,-2.84),(4537,-2.49),
    (4544,-1.97),(4554,-1.62),(4560,-1.97),(4567,-2.59),(4577,-3.01),(4583,-2.77),(4590,-2.32),(4600,-1.97),
    (4607,-2.42),(4617,-2.07),(4630,-2.21),(4640,-1.97),(4646,-1.66),(4653,-2.21),(4659,-2.98),(4666,-2.70),
    (4673,-2.32),(4683,-1.97),(4696,-1.59),(4702,-1.97),(4706,-2.49),(4707,-2.84),(4709,-3.08),(4716,-3.36),
    (4726,-3.29),(4732,-3.25),(4739,-3.43),(4746,-3.60),(4749,-3.98),(4755,-3.56),(4765,-3.70),(4772,-3.32),
    (4782,-3.53),(4792,-3.70),(4798,-3.91),(4805,-4.22),(4812,-4.46),(4818,-4.67),(4825,-4.33),(4830,-4.05),
    (4838,-4.39),(4848,-4.74),(4858,-4.88),(4865,-4.57),(4871,-4.15),(4878,-4.57),(4884,-5.02),(4894,-5.19),
    (4901,-4.74),(4908,-4.88),(4914,-4.95),(4921,-4.60),(4927,-4.88),(4934,-4.57),(4941,-3.91),(4950,-3.70),
    (4957,-3.60),(4967,-3.94),(4977,-3.81),(4987,-4.15),(4993,-3.74),(5000,-3.88),(5007,-4.57),(5017,-4.46),
    (5023,-4.19),(5033,-4.60),(5040,-4.88),(5050,-4.60),(5060,-4.46),(5070,-4.26),(5076,-4.39),(5084,-4.12),
    (5096,-4.39),(5102,-4.05),(5109,-4.26),(5119,-3.70),(5129,-4.05),(5142,-3.53),(5152,-3.91),(5162,-3.84),
    (5169,-4.08),(5179,-4.01),(5189,-3.81),(5197,-4.08),(5202,-3.43),(5205,-2.73),(5215,-2.94),(5222,-2.80),
    (5225,-3.36),(5228,-3.88),(5231,-4.46),(5238,-3.81),(5248,-3.43),(5258,-3.22),(5268,-3.63),(5274,-3.22),
    (5284,-3.49),(5291,-3.63),(5301,-3.22),(5311,-3.63),(5317,-3.91),(5327,-3.91),(5337,-3.84),(5344,-4.33),
    (5352,-3.63),(5357,-4.05),(5362,-4.39),(5365,-4.98),(5370,-4.74),(5374,-4.15),(5380,-3.49),(5387,-3.36),
    (5394,-3.70),(5399,-3.98),(5407,-3.56),(5417,-3.91),(5427,-3.84),
]

sep_up_mean = [
    (4286,-2.23),(4294,-2.07),(4299,-2.28),(4305,-2.20),(4312,-2.04),(4319,-2.30),(4326,-2.52),(4332,-2.28),
    (4342,-2.63),(4349,-2.11),(4359,-2.35),(4365,-2.70),(4370,-2.98),(4377,-2.84),(4385,-2.00),(4392,-2.14),
    (4408,-2.06),(4425,-2.18),(4438,-2.25),(4451,-2.42),(4458,-2.28),(4471,-2.14),(4484,-2.28),(4491,-2.50),
    (4497,-1.95),(4507,-1.52),(4517,-1.80),(4524,-2.32),(4530,-2.21),(4540,-2.07),(4554,-1.97),(4567,-2.07),
    (4577,-2.14),(4587,-2.04),(4607,-1.99),(4623,-2.04),(4636,-2.14),(4656,-2.39),(4669,-2.07),(4686,-1.93),
    (4702,-1.76),(4719,-1.85),(4736,-1.97),(4752,-2.32),(4762,-2.63),(4775,-2.63),(4785,-2.32),(4795,-2.11),
    (4812,-2.14),(4828,-2.21),(4841,-2.18),(4858,-2.28),(4874,-2.25),(4891,-2.25),(4911,-2.28),(4931,-2.07),
    (4941,-1.92),(4950,-2.07),(4967,-2.14),(4977,-2.32),(4990,-2.18),(5003,-2.18),(5016,-2.39),(5030,-2.14),
    (5050,-2.11),(5066,-2.18),(5083,-2.14),(5089,-2.25),(5102,-2.18),(5116,-2.21),(5126,-2.35),(5139,-2.39),
    (5152,-2.37),
]

sep_down_mean = [
    (4491,-1.69),(4498,-1.59),(4507,-1.59),(4517,-1.76),(4524,-1.83),(4530,-2.14),(4537,-1.80),(4544,-1.69),
    (4554,-1.24),(4564,-1.35),(4570,-1.49),(4583,-1.97),(4593,-1.93),(4607,-1.80),(4617,-1.45),(4630,-1.43),
    (4643,-1.40),(4656,-1.49),(4666,-1.56),(4676,-1.45),(4686,-1.56),(4699,-1.49),(4709,-1.59),(4719,-1.73),
    (4736,-1.76),(4745,-1.97),(4752,-2.14),(4769,-2.14),(4785,-2.04),(4798,-1.97),(4812,-1.95),(4825,-1.92),
    (4838,-2.00),(4851,-2.04),(4865,-2.21),(4878,-2.14),(4891,-2.04),(4904,-2.14),(4917,-2.18),(4937,-2.07),
    (4950,-2.04),(4964,-2.28),(4974,-2.32),(4984,-2.25),(4997,-2.32),(5010,-2.21),(5023,-2.25),(5036,-2.04),
    (5050,-2.00),(5066,-2.07),(5079,-2.07),(5089,-2.09),(5102,-2.07),(5112,-2.04),(5119,-2.11),(5129,-2.18),
    (5142,-2.21),(5155,-2.21),(5169,-2.32),(5182,-2.32),(5192,-2.39),(5200,-2.47),(5212,-2.42),(5222,-2.32),
    (5238,-2.28),(5252,-2.25),(5264,-2.23),(5271,-2.19),(5281,-2.00),(5291,-2.11),(5301,-1.80),(5307,-1.97),
    (5317,-2.25),(5327,-2.21),(5337,-2.28),(5344,-2.39),(5357,-2.35),(5370,-2.42),(5384,-2.46),(5390,-2.59),
    (5401,-2.42),(5411,-2.52),(5417,-2.56),(5425,-2.56),
]

trend_pts = [(4290, -2.24), (5155, -2.18)]

arrow_elev, arrow_from, arrow_to = 5159, -6.84, -5.79
note_elev, note_dh, note_text = 5175, -7.10, "Base Camp"

legend_labels = [
    "TanDEM-X Nov. 2016 - GNSS down",
    "TanDEM-X Sep. 2016 - GNSS down",
    "TanDEM-X Sep. 2016 - GNSS up",
    "running mean down Nov. 2016",
    "running mean up Sep. 2016",
    "running mean down Sep. 2016",
    "Linear (running mean up Sep. 2016)",
]

x_tick_values = list(range(4250, 5500, 50))
y_tick_values = [round(-7.8 + 0.2 * i, 1) for i in range(44)]

# ---------------- styles ----------------
C_NOV = "#9DC3E6"
C_SEPD = "#F7BFA4"
C_SEPU = "#A9D18E"
C_NOV_M = "#2F5597"
C_SEPU_M = "#385723"
C_SEPD_M = "#E8531A"
C_TREND = "#8B0000"
PT = 95


def frame(pts):
    d = pd.DataFrame(pts, columns=["elev", "dh"])
    d["i"] = range(len(d))
    return d


x_scale = alt.Scale(domain=[4200, 5500], nice=False, zero=False)
y_scale = alt.Scale(domain=[-8, 1], nice=False, zero=False)

common_axis = dict(
    grid=True, gridColor="#d9d9d9", gridWidth=1.5, ticks=False,
    domain=True, domainColor="black", domainWidth=2.5,
    labelFont=FONT, labelFontSize=27, labelColor="black", labelFlush=False, labelOverlap=False,
    titleFont=FONT, titleFontSize=29, titleFontWeight="normal", titleColor="black",
)
x_axis = alt.Axis(
    values=list(range(4200, 5501, 100)),
    labelExpr="datum.value % 200 === 0 ? toString(datum.value) : ''",
    title="Elevation (m)", labelPadding=29,
    titleX=W / 2, titleY=74, titleBaseline="middle", titleAlign="center",
    **common_axis,
)
y_axis = alt.Axis(
    values=list(range(-8, 2)),
    labelExpr="toString(datum.value)",
    labelOffset={"condition": {"test": "datum.value === 1", "value": 15}, "value": 0},
    title="dh (m)", labelPadding=26,
    titleX=-61, titleY=H / 2, titleAngle=270, titleBaseline="middle", titleAlign="center",
    **common_axis,
)

X = alt.X("elev:Q", scale=x_scale, axis=x_axis)
Y = alt.Y("dh:Q", scale=y_scale, axis=y_axis)


def scatter(pts, color):
    return alt.Chart(frame(pts)).mark_circle(size=PT, color=color, opacity=1).encode(x=X, y=Y)


def mean_line(pts, color, width):
    return alt.Chart(frame(pts)).mark_line(
        color=color, strokeWidth=width, strokeJoin="round", strokeCap="round"
    ).encode(x=X, y=Y, order="i:Q")


streak = alt.Chart(frame(sep_up_streak)).mark_line(color=C_SEPU, strokeWidth=4).encode(x=X, y=Y, order="i:Q")

trend = alt.Chart(frame(trend_pts)).mark_line(
    color=C_TREND, strokeWidth=6.5, strokeDash=[13, 13], strokeCap="round"
).encode(x=X, y=Y, order="i:Q")

arrow_df = pd.DataFrame({"elev": [arrow_elev], "dh": [arrow_from], "dh2": [arrow_to]})
arrow = alt.Chart(arrow_df).mark_rule(color="red", strokeWidth=2.5).encode(x=X, y=Y, y2="dh2:Q")
head_df = pd.DataFrame({"elev": [arrow_elev], "dh": [arrow_to]})
head = alt.Chart(head_df).mark_point(
    shape="M -1 1.7 L 0 0 L 1 1.7", filled=False, size=441, color="red", strokeWidth=2.5, opacity=1
).encode(x=X, y=Y)
note_df = pd.DataFrame({"elev": [note_elev], "dh": [note_dh], "label": [note_text]})
note = alt.Chart(note_df).mark_text(
    font=FONT, fontSize=28, align="center", baseline="middle", color="black"
).encode(x=X, y=Y, text="label:N")

xt = alt.Chart(pd.DataFrame({"elev": x_tick_values})).mark_rule(color="black", strokeWidth=2).encode(
    x=X, y=alt.value(H - 8), y2=alt.value(H))
yt = alt.Chart(pd.DataFrame({"dh": y_tick_values})).mark_rule(color="black", strokeWidth=2).encode(
    y=Y, x=alt.value(0), x2=alt.value(8))

main = alt.layer(
    scatter(nov_down_pts + nov_down_more, C_NOV),
    scatter(sep_down_pts + sep_down_more, C_SEPD),
    scatter(sep_up_pts + sep_up_more, C_SEPU),
    streak,
    mean_line(nov_mean, C_NOV_M, 16),
    mean_line(sep_up_mean, C_SEPU_M, 14),
    mean_line(sep_down_mean, C_SEPD_M, 10),
    trend, arrow, head, note, xt, yt,
)

# ---------------- legend (inside, lower left) ----------------
leg_df = pd.DataFrame({"row": list(range(7)), "label": legend_labels})
LY = alt.Y("row:Q", scale=alt.Scale(domain=[0, 6], range=[650, 841]), axis=None)
leg_colors = alt.Scale(domain=legend_labels[:6], range=[C_NOV, C_SEPD, C_SEPU, C_NOV_M, C_SEPU_M, C_SEPD_M])

leg_small = alt.Chart(leg_df).transform_filter("indexof([0,1,2,5], datum.row) >= 0").mark_circle(
    size=72, opacity=1).encode(x=alt.value(77), y=LY, color=alt.Color("label:N", scale=leg_colors, legend=None))
leg_big = alt.Chart(leg_df).transform_filter("datum.row == 3 || datum.row == 4").mark_circle(
    size=144, opacity=1).encode(x=alt.value(77), y=LY, color=alt.Color("label:N", scale=leg_colors, legend=None))
leg_line = alt.Chart(leg_df).transform_filter("datum.row == 6").mark_rule(
    color=C_TREND, strokeWidth=6.5, strokeDash=[13, 13], strokeCap="round").encode(
    x=alt.value(43), x2=alt.value(108), y=LY)
leg_text = alt.Chart(leg_df).mark_text(
    font=FONT, fontSize=24.5, align="left", baseline="middle", color="black").encode(
    x=alt.value(120), y=LY, text="label:N")

legend = alt.layer(leg_small, leg_big, leg_line, leg_text)

chart = alt.layer(main, legend).resolve_scale(y="independent", color="independent").properties(
    width=W, height=H,
    padding={"left": 82, "top": 3, "right": 1, "bottom": 91},
    autosize=alt.AutoSizeParams(type="none"),
).configure_view(stroke="black", strokeWidth=2.5)

chart.save("out.html", embed_options={"renderer": "svg", "actions": False})
